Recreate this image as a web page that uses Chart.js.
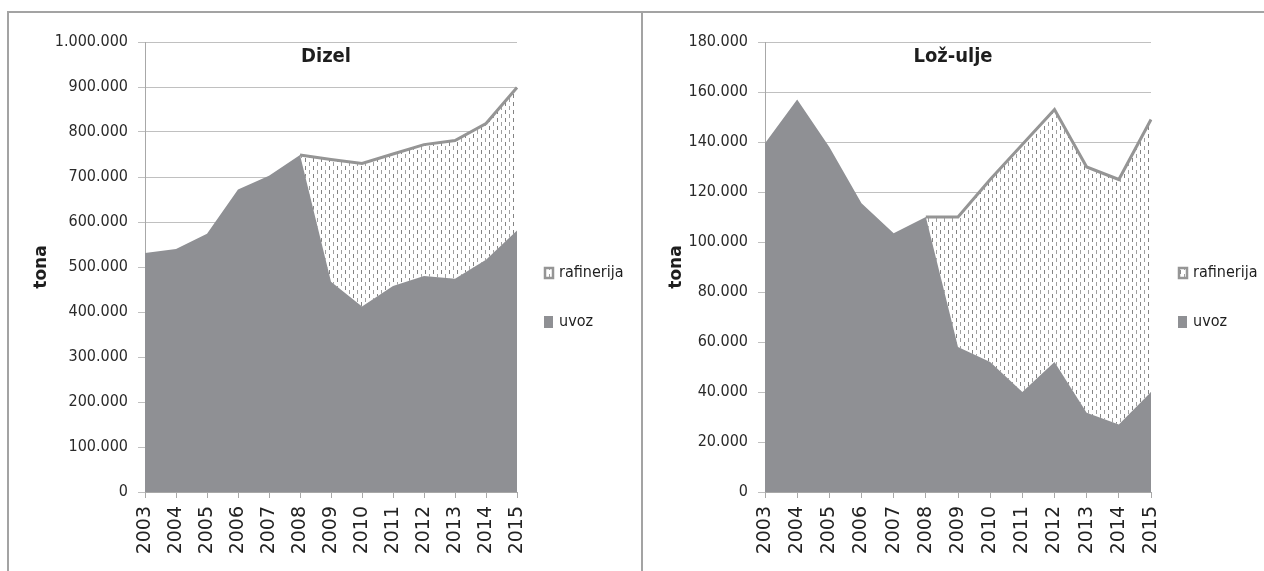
<!DOCTYPE html>
<html>
<head>
<meta charset="utf-8">
<script src="https://cdn.jsdelivr.net/npm/chart.js@4.4.1/dist/chart.umd.min.js"></script>
<style>
  html, body { margin: 0; padding: 0; background: #ffffff; }
  body { width: 1264px; height: 571px; position: relative; overflow: hidden; }
  .rule { position: absolute; background: #a3a3a3; }
  canvas { position: absolute; }
</style>
</head>
<body>
<div class="rule" style="left:7px; top:11px; width:1257px; height:2px;"></div>
<div class="rule" style="left:7px; top:11px; width:2px; height:560px;"></div>
<div class="rule" style="left:641px; top:11px; width:2px; height:560px;"></div>
<canvas id="dizel" width="632" height="557" style="left:9px; top:14px;"></canvas>
<canvas id="loz" width="620" height="557" style="left:644px; top:14px;"></canvas>
<script>
// Categories
const years = ['2003', '2004', '2005', '2006', '2007', '2008', '2009', '2010', '2011', '2012', '2013', '2014', '2015'];

// Dizel (tona)
const dizelUvoz = [531000, 540000, 574000, 672000, 703000, 749000, 467000, 412000, 458000, 480000, 474000, 516000, 581000];
const dizelRafinerija = [null, null, null, null, null, 0, 272000, 318000, 293000, 292000, 307000, 303000, 318000];

// Lož-ulje (tona)
const lozUvoz = [139500, 157000, 138000, 115500, 103500, 110000, 58000, 52000, 40000, 52000, 31700, 27000, 40000];
const lozRafinerija = [null, null, null, null, null, 0, 52000, 73000, 99000, 101000, 98300, 98000, 109000];

// Axis ranges
const dizelAxis = { max: 1000000, step: 100000 };
const lozAxis = { max: 180000, step: 20000 };

const seriesNames = ['uvoz', 'rafinerija'];
const titles = ['Dizel', 'Lož-ulje'];
const axisTitle = 'tona';

const NARROW = "'DejaVu Sans Condensed', 'Liberation Sans Narrow', sans-serif";
const WIDE = "'DejaVu Sans', Verdana, sans-serif";
const UVOZ_COLOR = '#8f9094';
const LINE_COLOR = '#959595';
const GRID_COLOR = '#c0c0c0';
const AXIS_COLOR = '#a8a8a8';

// thousands separated with dots
function fmt(v) {
  return String(Math.round(v)).replace(/\B(?=(\d{3})+(?!\d))/g, '.');
}

// dashed vertical hatch on white
function makeHatch(ctx) {
  const c = document.createElement('canvas');
  c.width = 8; c.height = 8;
  const g = c.getContext('2d');
  g.fillStyle = '#ffffff';
  g.fillRect(0, 0, 8, 8);
  g.fillStyle = '#848484';
  g.fillRect(0, 0, 1, 4);
  g.fillStyle = '#a0a0a0';
  g.fillRect(4, 4, 1, 4);
  return ctx.createPattern(c, 'repeat');
}

// chart title overlaid inside the plot, plus a side legend
const decorations = {
  id: 'decorations',
  afterDraw(chart, args, opts) {
    const { ctx, chartArea } = chart;
    ctx.save();
    ctx.fillStyle = '#1e1e1e';
    ctx.font = 'bold 20px ' + NARROW;
    ctx.textAlign = 'center';
    ctx.textBaseline = 'middle';
    ctx.fillText(opts.title, (chartArea.left + chartArea.right) / 2 - 5, 43);

    const bx = chartArea.right + 27;
    const rows = [
      { label: chart.data.datasets[1].label, y: 259, hatch: true },
      { label: chart.data.datasets[0].label, y: 308, hatch: false }
    ];
    ctx.textAlign = 'left';
    ctx.font = '16px ' + NARROW;
    rows.forEach(r => {
      if (r.hatch) {
        ctx.fillStyle = chart.data.datasets[1].backgroundColor;
        ctx.fillRect(bx, r.y - 6, 10, 12);
        ctx.strokeStyle = LINE_COLOR;
        ctx.lineWidth = 2.5;
        ctx.strokeRect(bx + 1, r.y - 5, 8, 10);
      } else {
        ctx.fillStyle = UVOZ_COLOR;
        ctx.fillRect(bx, r.y - 6, 9, 12);
      }
      ctx.fillStyle = '#1e1e1e';
      ctx.fillText(r.label, bx + 15, r.y);
    });
    ctx.restore();
  }
};

function build(id, uvoz, rafinerija, axis, title, leftWidth, rightPad) {
  const canvas = document.getElementById(id);
  const ctx = canvas.getContext('2d');
  const hatch = makeHatch(ctx);
  return new Chart(ctx, {
    type: 'line',
    data: {
      labels: years,
      datasets: [
        {
          label: seriesNames[0],
          data: uvoz,
          backgroundColor: UVOZ_COLOR,
          borderColor: UVOZ_COLOR,
          borderWidth: 0,
          fill: 'origin',
          pointRadius: 0,
          tension: 0
        },
        {
          label: seriesNames[1],
          data: rafinerija,
          backgroundColor: hatch,
          borderColor: LINE_COLOR,
          borderWidth: 3,
          fill: '-1',
          pointRadius: 0,
          tension: 0,
          spanGaps: false
        }
      ]
    },
    options: {
      responsive: false,
      animation: false,
      devicePixelRatio: 1,
      layout: { padding: { left: 0, right: rightPad, top: 28, bottom: 0 } },
      plugins: {
        legend: { display: false },
        tooltip: { enabled: false },
        decorations: { title: title }
      },
      scales: {
        x: {
          offset: false,
          grid: { drawOnChartArea: false, drawTicks: true, tickLength: 6, color: AXIS_COLOR },
          border: { color: AXIS_COLOR, width: 1 },
          ticks: {
            autoSkip: false,
            minRotation: 90,
            maxRotation: 90,
            padding: 8,
            color: '#222222',
            font: { family: WIDE, size: 19 }
          },
          afterFit(scale) { scale.height = 79; }
        },
        y: {
          stacked: true,
          min: 0,
          max: axis.max,
          grid: { color: GRID_COLOR, lineWidth: 1, tickLength: 7, drawTicks: true },
          border: { color: AXIS_COLOR, width: 1 },
          ticks: {
            stepSize: axis.step,
            padding: 10,
            color: '#2a2a2a',
            font: { family: NARROW, size: 16 },
            callback: v => fmt(v)
          },
          title: {
            display: true,
            text: axisTitle,
            color: '#1e1e1e',
            font: { family: WIDE, size: 17, weight: 'bold' },
            padding: { top: 22, bottom: 0 }
          },
          afterFit(scale) { scale.width = leftWidth; }
        }
      }
    },
    plugins: [decorations]
  });
}

build('dizel', dizelUvoz, dizelRafinerija, dizelAxis, titles[0], 136, 124);
build('loz', lozUvoz, lozRafinerija, lozAxis, titles[1], 121, 113);
</script>
</body>
</html>
